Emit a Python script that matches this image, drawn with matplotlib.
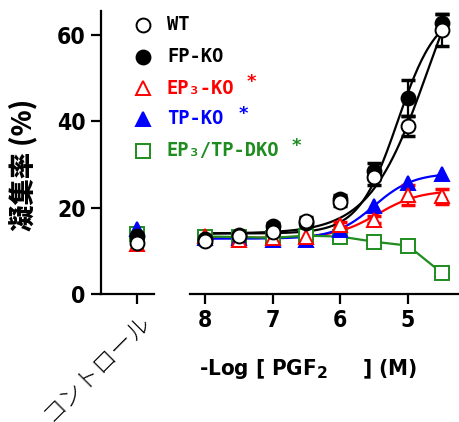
import numpy as np
import matplotlib
matplotlib.use("Agg")
import matplotlib.pyplot as plt
from matplotlib.lines import Line2D

# ---------------- data ----------------
conc = [8, 7.5, 7, 6.5, 6, 5.5, 5, 4.5]          # -log[PGF2a] (M)
wt     = [12.2, 13.5, 14.3, 17.0, 21.4, 27.0, 38.9, 61.0]
wt_err = [0.6, 0.6, 0.8, 0.9, 1.0, 1.8, 2.3, 3.7]
fp     = [12.8, 13.7, 15.7, 16.5, 22.0, 28.5, 45.3, 62.8]
fp_err = [0.6, 0.6, 0.8, 0.9, 1.0, 1.8, 4.2, 2.0]
ep3    = [13.5, 12.5, 13.0, 13.3, 16.0, 17.2, 23.0, 22.6]
ep3_err= [0.4, 0.4, 0.4, 0.5, 0.6, 0.8, 2.3, 1.7]
tp     = [13.0, 13.0, 12.5, 12.5, 14.8, 20.3, 25.7, 27.7]
dko    = [13.3, 13.2, 13.0, 13.5, 13.3, 12.1, 11.2, 4.9]

ctrl = {"WT": 11.8, "FP": 13.5, "EP3": 11.5, "TP": 15.0, "DKO": 14.0}

# Hill-fit parameters (bottom, top, x50, slope)
fit_wt  = (14.0, 90.0, 4.70, 1.0)
fit_fp  = (14.0, 66.0, 5.15, 1.5)
fit_ep3 = (13.0, 24.0, 5.45, 1.4)
fit_tp  = (12.8, 28.0, 5.50, 1.5)

yticks = [0, 20, 40, 60]
xticks = [8, 7, 6, 5]
labels = ["WT", "FP-KO", "EP\u2083-KO", "TP-KO", "EP\u2083/TP-DKO"]

def hill(x, p):
    b, t, x50, h = p
    return b + (t - b) / (1 + 10 ** (h * (x - x50)))

# ---------------- figure ----------------
W, H = 460, 422
fig = plt.figure(figsize=(W / 100, H / 100), dpi=100)

def rect(l, r, t, b):
    return [l / W, 1 - b / H, (r - l) / W, (b - t) / H]

axc = fig.add_axes(rect(101, 154, 11, 294))
axm = fig.add_axes(rect(190, 460, 11, 294))

tickfont = dict(family=["DejaVu Sans"], stretch="condensed", weight="bold", size=16.5)
lw = 1.6
ms = 10
mew = 1.4

black, red, blue, green = "black", "#ff0000", "#0000ff", "#1e8c1e"

for ax in (axc, axm):
    ax.set_ylim(0, 65.5)
    for s in ("top", "right"):
        ax.spines[s].set_visible(False)
    ax.spines["bottom"].set_linewidth(lw)
    ax.spines["left"].set_linewidth(lw)
    ax.tick_params(width=lw, length=7, pad=4)

# control panel
axc.set_xlim(-1.2, 0.55)
axc.set_xticks([0])
axc.set_yticks(yticks)
axc.set_yticklabels([str(v) for v in yticks], fontdict=tickfont)
axc.set_xticklabels(["コントロール"], rotation=45, ha="right", va="top",
                    rotation_mode="anchor",
                    fontdict=dict(family=["Noto Sans CJK JP"], size=17, weight="light"))
axc.plot([0], [ctrl["DKO"]], "s", ms=ms, mfc="white", mec=green, mew=mew)
axc.plot([0], [ctrl["EP3"]], "^", ms=ms, mfc="white", mec=red, mew=mew)
axc.plot([0], [ctrl["TP"]], "^", ms=ms, mfc=blue, mec=blue, mew=mew)
axc.plot([0], [ctrl["FP"]], "o", ms=ms, mfc=black, mec=black, mew=mew)
axc.plot([0], [ctrl["WT"]], "o", ms=ms, mfc="white", mec=black, mew=mew)

fig.text(23 / W, 1 - 165 / H, "凝集率 (%)", rotation=90, ha="center", va="center",
         family=["Noto Sans CJK JP"], weight="black", size=19)

# main panel
axm.spines["left"].set_visible(False)
axm.set_yticks([])
axm.set_xlim(8.22, 4.23)
axm.set_xticks(xticks)
axm.set_xticklabels([str(v) for v in xticks], fontdict=tickfont)
fig.text(308 / W, 1 - 369 / H, "-Log [ PGF$_\\mathbf{2}$     ] (M)",
         family=["DejaVu Sans"], stretch="condensed", weight="bold", size=16,
         ha="center", va="center")

xf = np.linspace(8, 4.5, 200)
axm.plot(xf, hill(xf, fit_ep3), color=red, lw=lw, zorder=2)
axm.plot(xf, hill(xf, fit_tp), color=blue, lw=lw, zorder=2)
axm.plot(conc, dko, color=green, lw=lw, zorder=2)
axm.plot(xf, hill(xf, fit_fp), color=black, lw=lw, zorder=2)
axm.plot(xf, hill(xf, fit_wt), color=black, lw=lw, zorder=2)

eb = dict(fmt="none", capsize=5, elinewidth=lw, capthick=2.5, zorder=3)
axm.errorbar(conc, ep3, yerr=ep3_err, ecolor=red, **eb)
axm.errorbar(conc, fp, yerr=fp_err, ecolor=black, **eb)
axm.errorbar(conc, wt, yerr=wt_err, ecolor=black, **eb)

axm.plot(conc, dko, "s", ms=ms, mfc="white", mec=green, mew=mew, zorder=4)
axm.plot(conc, tp, "^", ms=ms, mfc=blue, mec=blue, mew=mew, zorder=4)
axm.plot(conc, ep3, "^", ms=ms, mfc="white", mec=red, mew=mew, zorder=5)
axm.plot(conc, fp, "o", ms=ms, mfc=black, mec=black, mew=mew, zorder=6)
axm.plot(conc, wt, "o", ms=ms, mfc="white", mec=black, mew=mew, zorder=7)

# legend (manual)
styles = [("o", "white", black, black), ("o", black, black, black),
          ("^", "white", red, red), ("^", blue, blue, blue),
          ("s", "white", green, green)]
rows = [25, 57, 88, 119, 151]
legfont = dict(family=["DejaVu Sans Mono"], weight="bold", size=13.5)
for (m, fc, ec, tc), lab, ry in zip(styles, labels, rows):
    fig.add_artist(Line2D([143 / W], [1 - ry / H], marker=m, ms=ms, mfc=fc, mec=ec,
                          mew=mew, transform=fig.transFigure, ls="none"))
    fig.text(167 / W, 1 - ry / H, lab, color=tc, va="center", ha="left", **legfont)

star = dict(family=["DejaVu Sans"], weight="bold", size=13, ha="center", va="center")
fig.text(251 / W, 1 - 82 / H, "*", color=red, **star)
fig.text(243 / W, 1 - 114 / H, "*", color=blue, **star)
fig.text(296 / W, 1 - 146 / H, "*", color=green, **star)

fig.savefig("out.png", dpi=100)
